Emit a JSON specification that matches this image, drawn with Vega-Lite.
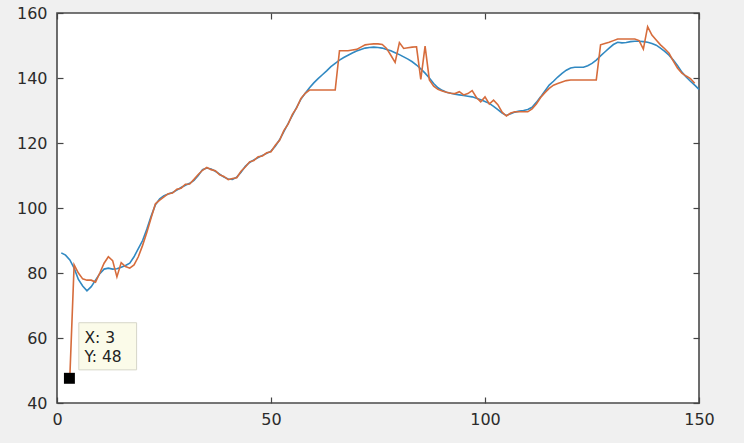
{
  "$schema": "https://vega.github.io/schema/vega-lite/v6.json",
  "width": 642,
  "height": 390,
  "autosize": {"type": "none"},
  "padding": {"left": 57, "top": 13, "right": 45, "bottom": 40},
  "background": "#f0f0f0",
  "view": {"fill": "white", "stroke": "#4a4a4a", "strokeWidth": 1.6},
  "config": {
    "font": "DejaVu Sans",
    "axis": {"grid": false, "domain": false, "tickColor": "#444444", "tickWidth": 1.2, "tickSize": -6, "labelFont": "DejaVu Sans", "labelFontSize": 16, "labelColor": "#2b2b2b", "labelFlush": false, "labelOverlap": false}
  },
  "datasets": {
    "blue": [
      {"x":1,"y":86.2},{"x":2,"y":85.5},{"x":3,"y":84},{"x":4,"y":81.5},{"x":5,"y":78},{"x":6,"y":76},{"x":7,"y":74.5},{"x":8,"y":75.8},{"x":9,"y":77.8},{"x":10,"y":79.8},
      {"x":11,"y":81.2},{"x":12,"y":81.5},{"x":13,"y":81.2},{"x":14,"y":81.3},{"x":15,"y":81.8},{"x":16,"y":82.3},{"x":17,"y":83},{"x":18,"y":85},{"x":19,"y":87.5},{"x":20,"y":90},
      {"x":21,"y":93.5},{"x":22,"y":97.5},{"x":23,"y":101},{"x":24,"y":102.8},{"x":25,"y":103.8},{"x":26,"y":104.3},{"x":27,"y":104.8},{"x":28,"y":105.5},{"x":29,"y":106.3},{"x":30,"y":107},
      {"x":31,"y":107.6},{"x":32,"y":108.5},{"x":33,"y":110},{"x":34,"y":111.8},{"x":35,"y":112.3},{"x":36,"y":112},{"x":37,"y":111.3},{"x":38,"y":110.4},{"x":39,"y":109.5},{"x":40,"y":108.9},
      {"x":41,"y":108.8},{"x":42,"y":109.5},{"x":43,"y":111},{"x":44,"y":112.8},{"x":45,"y":114},{"x":46,"y":114.8},{"x":47,"y":115.5},{"x":48,"y":116.2},{"x":49,"y":116.8},{"x":50,"y":117.5},
      {"x":51,"y":119},{"x":52,"y":121},{"x":53,"y":123.5},{"x":54,"y":126},{"x":55,"y":128.5},{"x":56,"y":131},{"x":57,"y":133.5},{"x":58,"y":135.3},{"x":59,"y":137},{"x":60,"y":138.5},
      {"x":61,"y":139.8},{"x":62,"y":141},{"x":63,"y":142.2},{"x":64,"y":143.5},{"x":65,"y":144.5},{"x":66,"y":145.5},{"x":67,"y":146.3},{"x":68,"y":147},{"x":69,"y":147.7},{"x":70,"y":148.3},
      {"x":71,"y":148.8},{"x":72,"y":149.2},{"x":73,"y":149.4},{"x":74,"y":149.5},{"x":75,"y":149.4},{"x":76,"y":149.2},{"x":77,"y":148.8},{"x":78,"y":148.4},{"x":79,"y":147.8},{"x":80,"y":147.2},
      {"x":81,"y":146.5},{"x":82,"y":145.8},{"x":83,"y":145},{"x":84,"y":144},{"x":85,"y":142.8},{"x":86,"y":141.5},{"x":87,"y":140},{"x":88,"y":138.3},{"x":89,"y":137},{"x":90,"y":136.2},
      {"x":91,"y":135.6},{"x":92,"y":135.3},{"x":93,"y":135},{"x":94,"y":134.8},{"x":95,"y":134.6},{"x":96,"y":134.4},{"x":97,"y":134.2},{"x":98,"y":133.8},{"x":99,"y":133.3},{"x":100,"y":132.8},
      {"x":101,"y":132.2},{"x":102,"y":131.3},{"x":103,"y":130.3},{"x":104,"y":129.2},{"x":105,"y":128.5},{"x":106,"y":129},{"x":107,"y":129.5},{"x":108,"y":129.8},{"x":109,"y":130},{"x":110,"y":130.3},
      {"x":111,"y":131},{"x":112,"y":132.5},{"x":113,"y":134.2},{"x":114,"y":136},{"x":115,"y":137.8},{"x":116,"y":139},{"x":117,"y":140.3},{"x":118,"y":141.4},{"x":119,"y":142.4},{"x":120,"y":143.1},
      {"x":121,"y":143.3},{"x":122,"y":143.3},{"x":123,"y":143.3},{"x":124,"y":143.8},{"x":125,"y":144.5},{"x":126,"y":145.5},{"x":127,"y":146.8},{"x":128,"y":148},{"x":129,"y":149.2},{"x":130,"y":150.3},
      {"x":131,"y":151},{"x":132,"y":150.8},{"x":133,"y":150.9},{"x":134,"y":151.2},{"x":135,"y":151.3},{"x":136,"y":151.3},{"x":137,"y":151.2},{"x":138,"y":151},{"x":139,"y":150.6},{"x":140,"y":150.1},
      {"x":141,"y":149.2},{"x":142,"y":148.2},{"x":143,"y":147},{"x":144,"y":145.5},{"x":145,"y":143.8},{"x":146,"y":141.8},{"x":147,"y":140.3},{"x":148,"y":139},{"x":149,"y":137.8},{"x":150,"y":136.5}
    ],
    "orange": [
      {"x":3,"y":48},{"x":4,"y":82.5},{"x":5,"y":80},{"x":6,"y":78.2},{"x":7,"y":77.8},{"x":8,"y":77.8},{"x":9,"y":77.2},{"x":10,"y":80},
      {"x":11,"y":83},{"x":12,"y":85},{"x":13,"y":83.8},{"x":14,"y":78.8},{"x":15,"y":83.2},{"x":16,"y":82},{"x":17,"y":81.5},{"x":18,"y":82.5},{"x":19,"y":85},{"x":20,"y":88.5},
      {"x":21,"y":92.5},{"x":22,"y":97},{"x":23,"y":101.3},{"x":24,"y":102.4},{"x":25,"y":103.4},{"x":26,"y":104.4},{"x":27,"y":104.6},{"x":28,"y":105.8},{"x":29,"y":106.1},{"x":30,"y":107.3},
      {"x":31,"y":107.4},{"x":32,"y":108.8},{"x":33,"y":110.3},{"x":34,"y":111.6},{"x":35,"y":112.5},{"x":36,"y":111.8},{"x":37,"y":111.5},{"x":38,"y":110.2},{"x":39,"y":109.7},{"x":40,"y":108.7},
      {"x":41,"y":109.1},{"x":42,"y":109.3},{"x":43,"y":111.3},{"x":44,"y":112.6},{"x":45,"y":114.2},{"x":46,"y":114.6},{"x":47,"y":115.8},{"x":48,"y":116},{"x":49,"y":117},{"x":50,"y":117.3},
      {"x":51,"y":119.3},{"x":52,"y":120.8},{"x":53,"y":123.8},{"x":54,"y":125.8},{"x":55,"y":128.8},{"x":56,"y":130.8},{"x":57,"y":133.7},{"x":58,"y":135.3},{"x":59,"y":136.3},{"x":60,"y":136.3},
      {"x":61,"y":136.3},{"x":62,"y":136.3},{"x":63,"y":136.3},{"x":64,"y":136.3},{"x":65,"y":136.3},{"x":66,"y":148.4},{"x":67,"y":148.4},{"x":68,"y":148.4},{"x":69,"y":148.6},{"x":70,"y":148.8},
      {"x":71,"y":149.5},{"x":72,"y":150.2},{"x":73,"y":150.4},{"x":74,"y":150.5},{"x":75,"y":150.5},{"x":76,"y":150.3},{"x":77,"y":149.1},{"x":78,"y":147},{"x":79,"y":144.8},{"x":80,"y":150.9},
      {"x":81,"y":149.1},{"x":82,"y":149.3},{"x":83,"y":149.5},{"x":84,"y":149.6},{"x":85,"y":139.6},{"x":86,"y":149.8},{"x":87,"y":139.4},{"x":88,"y":137.5},{"x":89,"y":136.5},{"x":90,"y":136},
      {"x":91,"y":135.6},{"x":92,"y":135.3},{"x":93,"y":135.2},{"x":94,"y":135.8},{"x":95,"y":134.8},{"x":96,"y":135.2},{"x":97,"y":136.1},{"x":98,"y":134},{"x":99,"y":132.7},{"x":100,"y":134.2},
      {"x":101,"y":132},{"x":102,"y":133.2},{"x":103,"y":131.8},{"x":104,"y":129.5},{"x":105,"y":128.3},{"x":106,"y":129.2},{"x":107,"y":129.6},{"x":108,"y":129.6},{"x":109,"y":129.6},{"x":110,"y":129.6},
      {"x":111,"y":130.5},{"x":112,"y":132},{"x":113,"y":134},{"x":114,"y":135.5},{"x":115,"y":136.8},{"x":116,"y":137.8},{"x":117,"y":138.3},{"x":118,"y":138.8},{"x":119,"y":139.2},{"x":120,"y":139.4},
      {"x":121,"y":139.4},{"x":122,"y":139.4},{"x":123,"y":139.4},{"x":124,"y":139.4},{"x":125,"y":139.4},{"x":126,"y":139.4},{"x":127,"y":150.2},{"x":128,"y":150.6},{"x":129,"y":151},{"x":130,"y":151.5},
      {"x":131,"y":152},{"x":132,"y":152},{"x":133,"y":152},{"x":134,"y":152},{"x":135,"y":152},{"x":136,"y":151.5},{"x":137,"y":148.9},{"x":138,"y":155.8},{"x":139,"y":153.2},{"x":140,"y":151.7},
      {"x":141,"y":150.2},{"x":142,"y":149},{"x":143,"y":147.6},{"x":144,"y":145.2},{"x":145,"y":143},{"x":146,"y":141.5},{"x":147,"y":140.6},{"x":148,"y":139.8},{"x":149,"y":138.4}
    ],
    "tipbox": [{"x1":5.1,"x2":18.6,"y1":50.2,"y2":64.7}],
    "tiptext": [{"x":6.4,"y":58.4,"label":"X: 3"},{"x":6.4,"y":52.7,"label":"Y: 48"}],
    "marker": [{"x":2.9,"y":47.6}]
  },
  "layer": [
    {
      "data": {"name": "blue"},
      "mark": {"type": "line", "color": "#3189c2", "strokeWidth": 1.6},
      "encoding": {
        "x": {"field": "x", "type": "quantitative", "scale": {"domain": [0, 150], "nice": false, "zero": false}, "axis": {"orient": "bottom", "values": [0, 50, 100, 150], "title": null, "labelPadding": 14}},
        "y": {"field": "y", "type": "quantitative", "scale": {"domain": [40, 160], "nice": false, "zero": false}, "axis": {"orient": "left", "values": [40, 60, 80, 100, 120, 140, 160], "title": null, "labelPadding": 16}}
      }
    },
    {
      "data": {"name": "orange"},
      "mark": {"type": "line", "color": "#d66c3c", "strokeWidth": 1.6},
      "encoding": {
        "x": {"field": "x", "type": "quantitative", "axis": null},
        "y": {"field": "y", "type": "quantitative", "axis": null}
      }
    },
    {
      "data": {"name": "tipbox"},
      "mark": {"type": "rect", "fill": "#fbfbe9", "stroke": "#d6d6c8", "strokeWidth": 1},
      "encoding": {
        "x": {"field": "x1", "type": "quantitative", "axis": null},
        "x2": {"field": "x2"},
        "y": {"field": "y1", "type": "quantitative", "axis": null},
        "y2": {"field": "y2"}
      }
    },
    {
      "data": {"name": "tiptext"},
      "mark": {"type": "text", "align": "left", "baseline": "alphabetic", "fontSize": 15.5, "font": "DejaVu Sans", "color": "#222222"},
      "encoding": {
        "x": {"field": "x", "type": "quantitative", "axis": null},
        "y": {"field": "y", "type": "quantitative", "axis": null},
        "text": {"field": "label"}
      }
    },
    {
      "data": {"name": "marker"},
      "mark": {"type": "square", "filled": true, "color": "black", "opacity": 1, "size": 120},
      "encoding": {
        "x": {"field": "x", "type": "quantitative", "axis": null},
        "y": {"field": "y", "type": "quantitative", "axis": null}
      }
    },
    {
      "data": {"name": "marker"},
      "mark": {"type": "point", "opacity": 0},
      "encoding": {
        "x": {"field": "x", "type": "quantitative", "axis": {"orient": "top", "values": [0, 50, 100, 150], "labels": false, "title": null}},
        "y": {"field": "y", "type": "quantitative", "axis": {"orient": "right", "values": [40, 60, 80, 100, 120, 140, 160], "labels": false, "title": null}}
      }
    }
  ],
  "resolve": {"axis": {"x": "independent", "y": "independent"}}
}
